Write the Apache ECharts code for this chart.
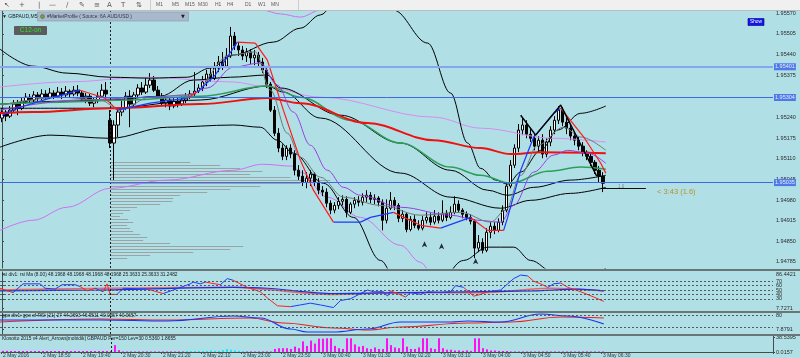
<!DOCTYPE html>
<html><head><meta charset="utf-8">
<script src="https://cdn.jsdelivr.net/npm/echarts@6/dist/echarts.min.js"></script>
<style>html,body{margin:0;padding:0;background:#b0e0e6;}#c{width:800px;height:358px;}</style>
</head><body><div id="c"></div>
<script>
// ---------- data ----------
const priceTicks = [1.95570,1.95505,1.95440,1.95375,1.95240,1.95175,1.95110,1.95045,1.94980,1.94915,1.94850,1.94785];
const rsiTicks = [7.7271,30,40,50,60,70,86.4421];
const oscTicks = [7.8791,20,77.3888,80];
const histTicks = [0.0157,38.5395];
const rsiLevels = [70,60,50,40,30];
const oscLevels = [80,20];
const hLevels = [1.95401,1.95304,1.95035];
const sessionIndex = 27;
const timeLabels = ['2 May 2016','2 May 18:50','2 May 19:40','2 May 20:30','2 May 21:20','2 May 22:10','2 May 23:00','2 May 23:50','3 May 00:40','3 May 01:30','3 May 02:20','3 May 03:10','3 May 04:00','3 May 04:50','3 May 05:40','3 May 06:30'];
// [open, close, low, high]
const candles = [
[1.95239,1.95258,1.95226,1.95270],[1.95258,1.95245,1.95229,1.95264],[1.95245,1.95264,1.95239,1.95277],[1.95264,1.95283,1.95258,1.95296],
[1.95283,1.95270,1.95248,1.95296],[1.95270,1.95292,1.95264,1.95305],[1.95292,1.95305,1.95283,1.95318],[1.95305,1.95296,1.95286,1.95315],
[1.95296,1.95312,1.95289,1.95324],[1.95312,1.95302,1.95292,1.95321],[1.95302,1.95315,1.95296,1.95330],[1.95315,1.95305,1.95296,1.95327],
[1.95305,1.95318,1.95299,1.95334],[1.95318,1.95308,1.95299,1.95327],[1.95308,1.95321,1.95302,1.95337],[1.95321,1.95312,1.95299,1.95334],
[1.95312,1.95324,1.95305,1.95340],[1.95324,1.95315,1.95305,1.95330],[1.95315,1.95327,1.95308,1.95340],[1.95327,1.95318,1.95308,1.95343],
[1.95318,1.95299,1.95292,1.95324],[1.95299,1.95308,1.95286,1.95318],[1.95308,1.95286,1.95277,1.95315],[1.95286,1.95296,1.95273,1.95305],
[1.95296,1.95308,1.95286,1.95321],[1.95308,1.95327,1.95302,1.95346],[1.95327,1.95315,1.95305,1.95353],[1.95232,1.95160,1.95144,1.95264],
[1.95160,1.95217,1.95043,1.95232],[1.95217,1.95258,1.95179,1.95270],[1.95258,1.95270,1.95245,1.95296],[1.95270,1.95308,1.95264,1.95321],
[1.95308,1.95283,1.95210,1.95327],[1.95283,1.95312,1.95277,1.95321],[1.95312,1.95334,1.95302,1.95346],[1.95334,1.95321,1.95312,1.95353],
[1.95321,1.95343,1.95315,1.95365],[1.95343,1.95359,1.95334,1.95381],[1.95359,1.95327,1.95321,1.95372],[1.95327,1.95308,1.95299,1.95340],
[1.95308,1.95286,1.95280,1.95318],[1.95286,1.95296,1.95273,1.95308],[1.95296,1.95277,1.95264,1.95302],[1.95277,1.95292,1.95270,1.95302],
[1.95292,1.95283,1.95273,1.95305],[1.95283,1.95296,1.95277,1.95308],[1.95296,1.95305,1.95286,1.95318],[1.95305,1.95315,1.95299,1.95327],
[1.95315,1.95324,1.95308,1.95384],[1.95324,1.95334,1.95318,1.95346],[1.95334,1.95353,1.95324,1.95372],[1.95353,1.95378,1.95340,1.95391],
[1.95378,1.95365,1.95353,1.95403],[1.95365,1.95397,1.95359,1.95416],[1.95397,1.95416,1.95384,1.95435],[1.95416,1.95403,1.95391,1.95448],
[1.95403,1.95435,1.95397,1.95460],[1.95435,1.95498,1.95429,1.95527],[1.95498,1.95467,1.95454,1.95511],[1.95467,1.95454,1.95435,1.95479],
[1.95454,1.95435,1.95422,1.95467],[1.95435,1.95448,1.95416,1.95460],[1.95448,1.95429,1.95410,1.95457],[1.95429,1.95438,1.95406,1.95454],
[1.95438,1.95416,1.95400,1.95448],[1.95416,1.95391,1.95381,1.95429],[1.95391,1.95346,1.95334,1.95403],[1.95346,1.95264,1.95258,1.95353],
[1.95264,1.95191,1.95182,1.95277],[1.95191,1.95144,1.95131,1.95207],[1.95144,1.95118,1.95106,1.95156],[1.95118,1.95144,1.95106,1.95153],
[1.95144,1.95125,1.95112,1.95156],[1.95125,1.95074,1.95058,1.95137],[1.95074,1.95055,1.95043,1.95090],[1.95055,1.95036,1.95024,1.95074],
[1.95036,1.95049,1.95017,1.95068],[1.95049,1.95062,1.95024,1.95074],[1.95062,1.95036,1.95024,1.95068],[1.95036,1.95011,1.94998,1.95049],
[1.95011,1.95005,1.94992,1.95024],[1.95005,1.94970,1.94957,1.95017],[1.94970,1.94948,1.94935,1.94979],[1.94948,1.94963,1.94938,1.94973],
[1.94963,1.94976,1.94951,1.94989],[1.94976,1.94982,1.94963,1.94995],[1.94982,1.94941,1.94925,1.94992],[1.94941,1.94967,1.94935,1.94973],
[1.94967,1.94979,1.94954,1.94989],[1.94979,1.94973,1.94960,1.94992],[1.94973,1.94989,1.94963,1.95001],[1.94989,1.94995,1.94973,1.95011],
[1.94995,1.94982,1.94970,1.95005],[1.94982,1.94986,1.94967,1.94998],[1.94986,1.94973,1.94960,1.94992],[1.94973,1.94916,1.94884,1.94982],
[1.94916,1.94954,1.94906,1.94982],[1.94954,1.94979,1.94948,1.95005],[1.94979,1.94963,1.94948,1.94989],[1.94963,1.94922,1.94910,1.94970],
[1.94922,1.94935,1.94910,1.94948],[1.94935,1.94887,1.94878,1.94941],[1.94887,1.94919,1.94881,1.94929],[1.94919,1.94900,1.94891,1.94932],
[1.94900,1.94891,1.94884,1.94916],[1.94891,1.94916,1.94884,1.94929],[1.94916,1.94925,1.94906,1.94941],[1.94925,1.94910,1.94900,1.94938],
[1.94910,1.94929,1.94903,1.94948],[1.94929,1.94916,1.94906,1.94941],[1.94916,1.94938,1.94910,1.94979],[1.94938,1.94925,1.94913,1.94948],
[1.94925,1.94941,1.94919,1.94960],[1.94941,1.94967,1.94935,1.94992],[1.94967,1.94948,1.94941,1.94979],[1.94948,1.94935,1.94922,1.94954],
[1.94935,1.94925,1.94916,1.94944],[1.94925,1.94913,1.94903,1.94935],[1.94913,1.94828,1.94796,1.94919],[1.94828,1.94846,1.94815,1.94869],
[1.94846,1.94821,1.94811,1.94859],[1.94821,1.94878,1.94815,1.94891],[1.94878,1.94897,1.94859,1.94910],[1.94897,1.94884,1.94872,1.94910],
[1.94884,1.94910,1.94878,1.94922],[1.94910,1.94948,1.94900,1.94963],[1.94948,1.95024,1.94941,1.95036],[1.95024,1.95090,1.95017,1.95106],
[1.95090,1.95144,1.95081,1.95156],[1.95144,1.95201,1.95131,1.95220],[1.95201,1.95217,1.95185,1.95242],[1.95217,1.95188,1.95175,1.95232],
[1.95188,1.95175,1.95163,1.95207],[1.95175,1.95150,1.95137,1.95188],[1.95150,1.95169,1.95131,1.95182],[1.95169,1.95125,1.95112,1.95188],
[1.95125,1.95163,1.95115,1.95175],[1.95163,1.95201,1.95150,1.95213],[1.95201,1.95232,1.95188,1.95245],[1.95232,1.95264,1.95220,1.95277],
[1.95264,1.95226,1.95213,1.95273],[1.95226,1.95207,1.95188,1.95239],[1.95207,1.95182,1.95169,1.95220],[1.95182,1.95169,1.95153,1.95194],
[1.95169,1.95150,1.95137,1.95179],[1.95150,1.95131,1.95118,1.95163],[1.95131,1.95118,1.95106,1.95137],[1.95118,1.95099,1.95087,1.95131],
[1.95099,1.95074,1.95062,1.95106],[1.95074,1.95055,1.95036,1.95087],[1.95055,1.95033,1.95005,1.95068]
];
// indicator lines: [bar index, price]
const bandUpper = [[-0.5,1.95457],[7.75,1.95403],[16.25,1.95381],[27,1.95368],[37,1.95365],[46.25,1.95368],[52,1.95397],[57.75,1.95438],[67.75,1.95479],[74.5,1.95523],[79.5,1.95565],[84.5,1.95628],[92,1.95659],[97.75,1.95580],[106.25,1.95476],[112,1.95318],[116.25,1.95160],[119.5,1.95080],[123.25,1.95043],[126.25,1.95030],[129.5,1.95068],[134.5,1.95137],[138.75,1.95201],[144.5,1.95254],[150.75,1.95277]];
const bandLower = [[-0.5,1.95147],[12,1.95185],[27,1.95175],[41.25,1.95210],[57.75,1.95217],[64.5,1.95210],[68.75,1.95169],[72.75,1.95128],[80.25,1.95033],[87.75,1.94925],[94.5,1.94789],[99.5,1.94694],[107,1.94679],[115.25,1.94789],[121.25,1.94831],[127.75,1.94831],[132,1.94789],[137.75,1.94751],[144,1.94730],[150.75,1.94764]];
const envUpper = [[59.5,1.95612],[65,1.95580],[69.5,1.95568],[74.5,1.95558],[79.5,1.95580],[82,1.95612]];
const envLower = [[-0.5,1.94884],[7.75,1.94916],[16.25,1.94957],[27,1.95017],[41.25,1.95043],[57.75,1.95074],[65,1.95093],[72.5,1.95087],[74.5,1.95068],[81.25,1.94989],[89.5,1.94925],[99.5,1.94837],[104.5,1.94783],[107,1.94742]];
const envMid = [[-0.5,1.95337],[16.25,1.95353],[36.25,1.95368],[57.75,1.95353],[65,1.95340],[79.5,1.95305],[107.75,1.95242],[119.5,1.95207],[137.75,1.95175],[150.75,1.95163]];
const maRed = [[-0.5,1.95254],[7.75,1.95258],[27,1.95270],[49.5,1.95283],[66.25,1.95302],[74.5,1.95286],[91.25,1.95223],[107.75,1.95169],[119.5,1.95144],[127,1.95125],[134.5,1.95131],[150.75,1.95128]];
const maGreen = [[-0.5,1.95283],[14.5,1.95289],[32,1.95296],[49.5,1.95308],[66.25,1.95340],[74.5,1.95305],[87,1.95232],[99.5,1.95160],[112,1.95084],[119.5,1.95058],[127,1.95033],[136.25,1.95071],[144.5,1.95084],[150.75,1.95077]];
const maBlackA = [[-0.5,1.95283],[14.5,1.95292],[27,1.95296],[39.5,1.95308],[47.75,1.95359],[57,1.95368],[66.25,1.95375],[69.5,1.95334],[84.5,1.95248],[99.5,1.95160],[112,1.95074],[121.25,1.95011],[126.25,1.94995],[132.75,1.95020],[142,1.95043],[150.75,1.95058]];
const maBlackB = [[-0.5,1.95270],[27,1.95270],[49.5,1.95296],[66.25,1.95340],[70.25,1.95321],[79.5,1.95239],[99.5,1.95065],[112,1.94989],[124.5,1.94954],[132,1.94979],[142,1.95001],[150.75,1.95020]];
const bandInner = [[-0.5,1.95264],[19.5,1.95296],[37,1.95305],[46.25,1.95312],[51.25,1.95334],[57.75,1.95400],[64.5,1.95413],[68.75,1.95343],[72.75,1.95258],[77,1.95153],[81.25,1.95074],[85.25,1.95020],[89.5,1.94995],[99.5,1.94957],[112,1.94932],[118.75,1.94916],[124.5,1.94910],[127.75,1.94963],[132.75,1.95068],[137.75,1.95122],[141.25,1.95137],[146.25,1.95128],[150.75,1.95096]];
const maGray = [[0,1.95280],[14.5,1.95305],[24.5,1.95296],[29.5,1.95264],[37,1.95305],[47,1.95312],[57,1.95438],[63.25,1.95448],[67,1.95327],[71.25,1.95191],[74.5,1.95115],[79.5,1.95052],[85.25,1.94989],[94.5,1.94963],[104.5,1.94932],[114.5,1.94941],[122,1.94910],[125.75,1.94948],[129.5,1.95058],[133.75,1.95153],[140.25,1.95210],[144.5,1.95179],[150.75,1.95137]];
const fastMA = [[0,1.95248],[4.5,1.95273],[12,1.95302],[19.5,1.95327],[23.25,1.95312],[25.75,1.95302],[28.75,1.95264],[37,1.95286],[46.25,1.95302],[48.75,1.95321],[53.25,1.95375],[58.75,1.95479],[63.25,1.95476],[66.25,1.95422],[70.25,1.95264],[74.5,1.95106],[77.75,1.95011],[82.75,1.94910],[89.5,1.94910],[92,1.94925],[97.75,1.94941],[104.5,1.94900],[109.5,1.94891],[117,1.94925],[121.25,1.94884],[125.25,1.94884],[126.25,1.94925],[129.5,1.95074],[132.75,1.95179],[137.75,1.95254],[139.5,1.95270],[145.25,1.95179],[149.5,1.95096],[150.75,1.95065]];
const fastDir = ['u','u','u','d','d','d','u','u','d','u','u','d','d','d','d','d','d','u','u','u','d','d','u','d','d','u','u','u','u','u','d','d','d','d'];
const zigzag = [[129.5,1.95248],[133.25,1.95185],[139.5,1.95280],[148.5,1.95055]];
const arrows = [[105.5,1.94850],[109.75,1.94843],[118.25,1.94796]];
// market profile: [price, end bar index], starting at sessionIndex
const profile = [[1.95099,47],[1.95090,54.5],[1.95081,59.5],[1.95071,65],[1.95062,62],[1.95052,72],[1.95043,82],[1.95033,74.5],[1.95024,64.5],[1.95014,57],[1.95005,51.25],[1.94995,44.5],[1.94986,42.75],[1.94976,42.5],[1.94967,39.5],[1.94957,33.75],[1.94948,32],[1.94938,30.25],[1.94929,29.5],[1.94919,31.5],[1.94910,32.75],[1.94900,31.25],[1.94891,32],[1.94881,32.75],[1.94872,34.5],[1.94862,36.25],[1.94853,35.25],[1.94843,42],[1.94834,60.25],[1.94824,57],[1.94815,47.75],[1.94805,37],[1.94796,31.25]];
const bidSeg = [[151,1.95035],[160.75,1.95035]];
const spreadSeg = [[149.5,1.95017],[160.75,1.95017]];
// RSI panel
const rsiLine = [[-0.5,54],[2.75,44],[5.25,64],[9.5,64],[10.75,54],[13.25,52],[15,62],[18.25,62],[19.5,58],[21.25,48],[23.25,54],[25.25,46],[26.25,64],[27,40],[28.75,40],[30.25,54],[36.25,52],[40.25,42],[42.75,50],[47,64],[47.75,68],[49.5,64],[50.75,68],[54.5,62],[56.25,76],[57.75,72],[61.25,56],[64.5,46],[66.25,32],[68.75,14],[72,12],[74.5,16],[77,20],[79.5,16],[82.75,10],[84.5,26],[87,30],[91.25,50],[92.75,46],[95.25,46],[96.25,36],[97,48],[98.75,42],[100.75,34],[102,44],[104.5,40],[106.25,46],[109.5,44],[112,46],[113.25,60],[115.25,56],[117.75,36],[119.5,40],[121.25,46],[124.5,50],[126.25,64],[127.75,76],[129.5,84],[131.25,82],[132.75,70],[134.5,64],[136.25,56],[137.75,64],[139.5,66],[141.25,56],[144.5,46],[147.75,34],[150.25,24]];
const rsiDir = ['d','u','u','u','u','u','u','u','d','d','u','d','d','d','u','u','d','u','u','u','u','u','d','u','u','d','d','d','d','d','u','u','u','u','u','u','u','u','u','u','u','d','d','u','u','u','u','u','u','u','d','d','d','u','u','u','u','u','d','d','d','u','u','d','d','d','d','d'];
const rsiSignal = [[-0.5,48],[24.5,50],[57.75,56],[66.25,54],[82.75,42],[99.5,44],[132.75,48],[143.75,52],[150.25,48]];
const rsiSlow = [[-0.5,50],[57.75,56],[64.5,52],[82.75,40],[99.5,44],[119.5,44],[137,54],[150.25,48]];
// second oscillator
const oscBlue = [[-0.5,55],[24.5,55],[41.25,50],[57.75,75],[64.5,65],[72,10],[76.25,-5],[82.75,-5],[91.25,10],[99.5,45],[112,45],[116.25,50],[124.5,45],[134.5,85],[141.25,75],[150.25,35]];
const oscRed = [[-0.5,45],[24.5,60],[41.25,55],[62,65],[70.25,40],[82.75,15],[91.25,5],[99.5,20],[116.25,40],[127,45],[139.5,70],[150.25,65]];
// histogram
const histVals = [3,3,2,2,2,
1,1,1,1,1,1,1,1,1,1,1,1,1,1,1,1,1,1,1,1,1,1,
1,18,5,
1,1,1,1,1,1,1,1,1,1,1,1,1,1,1,1,
1,2,2,3,2,3,4,3,3,5,8,6,4,3,2,
1,1,1,1,1,1,1,
8,10,10,10,8,14,10,28,16,30,22,35,35,36,36,16,10,8,36,36,20,14,16,10,8,12,8,8,36,18,12,10,
36,14,8,8,12,36,36,10,8,36,10,6,6,4,4,3,4,3,36,36,10,7,4,4,3,2,2,
1,1,1,1,1,1,1,1,1,1,1,1,1,1,1,1,1,1,1,1,1,1,1,1];
const histState = [].concat(
  Array(30).fill('m'), Array(16).fill('v'), Array(15).fill('c'), Array(7).fill('v'), Array(59).fill('m'), Array(24).fill('v'));

// ---------- chart ----------
const N = 193;
const cats = Array.from({length:N}, (_, i) => String(i));
const FONT = 'Liberation Sans';
const chart = echarts.init(document.getElementById('c'), null, {renderer:'canvas', width:800, height:358});

function splitDir(pts, dir, d) {
  const out = [];
  for (let k = 0; k < pts.length - 1; k++) {
    if (dir[k] === d) { out.push(pts[k], pts[k+1], [pts[k+1][0], '-']); }
  }
  return out;
}
function ln(data, color, width, extra) {
  return Object.assign({type:'line', xAxisIndex:1, yAxisIndex:0, data, symbol:'none', showSymbol:false,
    smooth:0.35, smoothMonotone:'x', silent:true, animation:false, lineStyle:{color, width}}, extra || {});
}
const dotV = () => ({xAxis: sessionIndex, lineStyle:{color:'#1e1e1e', type:[2,2], width:1}, label:{show:false}});
const lvlStyle = v => ({yAxis: v, lineStyle:{color:'#505a5c', type:[2,2], width:1}, label:{show:false}});
const hColors = ['#86a6ee','#3d68ea','#3d68ea'];
const hWidths = [2,1,1];
const mk = (data, extra) => Object.assign({silent:true, symbol:['none','none'], animation:false, precision:5, data}, extra || {});

const hidX = (g) => ({type:'value', gridIndex:g, min:-0.5, max:N-0.5, show:false});
const yBase = (g, min, max, ticks, fmt) => ({type:'value', gridIndex:g, position:'right', min, max, scale:false,
  splitLine:{show:false},
  axisLine:{show:true, lineStyle:{color:'#4a4a4a', width:1}},
  axisTick:{show:true, length:2, customValues:ticks, lineStyle:{color:'#4a4a4a'}},
  axisLabel:{customValues:ticks, formatter:fmt, fontSize:5.5, fontFamily:FONT, color:'#2a2a2a', margin:3,
    hideOverlap:false, showMinLabel:true, showMaxLabel:true}});
const numFmt = v => Number.isInteger(v) ? String(v) : v.toFixed(4);

const option = {
  animation:false,
  backgroundColor:'#b0e0e6',
  grid:[
    {left:0, top:11, width:773, height:257},
    {left:0, top:272, width:773, height:39},
    {left:0, top:313, width:773, height:21},
    {left:0, top:336, width:773, height:16}
  ],
  xAxis:[
    {type:'category', gridIndex:0, data:cats, boundaryGap:true, show:false},
    hidX(0), hidX(1), hidX(2),
    {type:'category', gridIndex:3, data:cats, boundaryGap:true,
      axisLine:{show:true, lineStyle:{color:'#4a4a4a'}},
      axisTick:{show:true, length:2, interval:(i)=> i % 10 === 0 && i <= 150, lineStyle:{color:'#4a4a4a'}},
      axisLabel:{interval:0, align:'left', margin:1, fontSize:5, fontFamily:FONT, color:'#333', hideOverlap:false,
        formatter:(v, i) => (i % 10 === 0 && timeLabels[i/10]) ? timeLabels[i/10] : ''}}
  ],
  yAxis:[
    yBase(0, 1.947651, 1.955773, priceTicks, v => v.toFixed(5)),
    yBase(1, 2.17, 91, rsiTicks, numFmt),
    yBase(2, -15, 90, oscTicks, numFmt),
    yBase(3, 0, 42, histTicks, numFmt)
  ],
  series:[
    ln(envLower, '#d070f0', 1, {z:1, markLine:mk(
      profile.map(p => [{coord:[sessionIndex, p[0]]}, {coord:[p[1], p[0]]}]).concat([
        [{coord:bidSeg[0], lineStyle:{color:'#f2e400', width:1, type:'solid'}}, {coord:bidSeg[1]}],
        [{coord:spreadSeg[0], lineStyle:{color:'#101010', width:1, type:'solid'}}, {coord:spreadSeg[1]}]
      ]), {z:1, label:{show:false}, lineStyle:{color:'#98a4a6', width:1, type:'solid'}})}),
    {type:'candlestick', xAxisIndex:0, yAxisIndex:0, data:candles, barWidth:3, silent:true, animation:false,
      itemStyle:{color:'#ffffff', color0:'#000000', borderColor:'#000000', borderColor0:'#000000', borderWidth:1}},
    ln(envUpper, '#d070f0', 1),
    ln(envMid, '#d98af2', 1, {markLine:mk(
        [dotV()].concat(hLevels.map((v, k) => ({yAxis:v,
          lineStyle:{color:hColors[k], width:hWidths[k], type:'solid'},
          label:{show:true, position:'end', distance:1, formatter:v.toFixed(5), backgroundColor:'#4f78e8',
            color:'#e6edff', fontSize:5.5, fontFamily:FONT, padding:[1,1,0,1]}}))), {z:6})}),
    ln(bandUpper, '#000000', 1),
    ln(bandLower, '#000000', 1),
    ln(maBlackA, '#000000', 1),
    ln(maBlackB, '#000000', 1),
    ln(maGreen, '#2e9e5a', 1.5),
    ln(maRed, '#f01010', 2),
    ln(bandInner, '#9a3ee0', 1),
    ln(maGray, '#707878', 1),
    ln(splitDir(fastMA, fastDir, 'u'), '#1c38ff', 1.2, {smooth:false}),
    ln(splitDir(fastMA, fastDir, 'd'), '#ff1a1a', 1.2, {smooth:false}),
    ln(zigzag, '#000000', 1.5, {smooth:false}),
    {type:'scatter', xAxisIndex:1, yAxisIndex:0, data:arrows, symbol:'arrow', symbolSize:[4,6], silent:true,
      animation:false, itemStyle:{color:'#000000'}},
    // RSI
    {type:'line', xAxisIndex:2, yAxisIndex:1, data:rsiSlow, symbol:'none', silent:true, animation:false, smooth:0.3,
      lineStyle:{color:'#e46a6a', width:1.5},
      markLine:mk([dotV()].concat(rsiLevels.map(lvlStyle)))},
    {type:'line', xAxisIndex:2, yAxisIndex:1, data:rsiSignal, symbol:'none', silent:true, animation:false, smooth:0.3,
      lineStyle:{color:'#1f2fe0', width:1.2}},
    {type:'line', xAxisIndex:2, yAxisIndex:1, data:splitDir(rsiLine, rsiDir, 'u'), symbol:'none', silent:true, animation:false,
      lineStyle:{color:'#2038ff', width:1}},
    {type:'line', xAxisIndex:2, yAxisIndex:1, data:splitDir(rsiLine, rsiDir, 'd'), symbol:'none', silent:true, animation:false,
      lineStyle:{color:'#ff2020', width:1}},
    // oscillator 2
    {type:'line', xAxisIndex:3, yAxisIndex:2, data:oscRed, symbol:'none', silent:true, animation:false, smooth:0.4, smoothMonotone:'x',
      lineStyle:{color:'#ee2020', width:1.2},
      markLine:mk([dotV()].concat(oscLevels.map(lvlStyle)))},
    {type:'line', xAxisIndex:3, yAxisIndex:2, data:oscBlue, symbol:'none', silent:true, animation:false, smooth:0.4, smoothMonotone:'x',
      lineStyle:{color:'#2030f0', width:1.2}},
    // histogram
    {type:'bar', xAxisIndex:4, yAxisIndex:3, barWidth:2, barMinHeight:1, silent:true, animation:false,
      data: histVals.map((v, i) => ({value:v, itemStyle:{color: histState[i] === 'c' ? '#22e4f4' : (histState[i] === 'v' ? '#c07cf0' : '#ff10f0')}})),
      markLine:mk([dotV()])}
  ],
  graphic:{elements:[
    // toolbar
    {type:'rect', shape:{x:0, y:0, width:800, height:10.5}, style:{fill:'#f0f0f0'}, z:100},
    {type:'rect', shape:{x:0, y:10, width:800, height:1}, style:{fill:'#bdbdbd'}, z:100},
    {type:'rect', shape:{x:150, y:0, width:0.8, height:10}, style:{fill:'#c4c4c4'}, z:100},
    {type:'rect', shape:{x:298, y:0, width:0.8, height:10}, style:{fill:'#c4c4c4'}, z:100},
    ...[['↖',4],['+',19],['|',38],['—',49],['/',66],['✎',79],['≡',94],['A',107],['T',121],['⇅',136]].map(t => (
      {type:'text', x:t[1], y:5, z:101, style:{text:t[0], fill:'#555', font:'7px "DejaVu Sans"', verticalAlign:'middle'}})),
    ...[['M1',156],['M5',172],['M15',185],['M30',198],['H1',215],['H4',227],['D1',245],['W1',258],['MN',271]].map(t => (
      {type:'text', x:t[1], y:5, z:101, style:{text:t[0], fill:'#5a5a5a', font:'5px "Liberation Sans"', verticalAlign:'middle'}})),
    // tab bar
    {type:'text', x:2, y:16.5, z:101, style:{text:'▼ GBPAUD,M5', fill:'#202020', font:'5px "Liberation Sans"', verticalAlign:'middle'}},
    {type:'rect', shape:{x:37.5, y:12, width:151, height:9}, style:{fill:'#a9b9cd', stroke:'#8797ad', lineWidth:0.6}, z:100},
    {type:'circle', shape:{cx:42.5, cy:16.5, r:2}, style:{fill:'#74a044', stroke:'#40602a', lineWidth:0.5}, z:101},
    {type:'text', x:47, y:16.5, z:101, style:{text:'#MarketProfile ( Source: 6A AUD/USD )', fill:'#2c3444', font:'4.8px "Liberation Sans"', verticalAlign:'middle'}},
    {type:'text', x:181, y:16.5, z:101, style:{text:'▼', fill:'#202020', font:'5px "DejaVu Sans"', verticalAlign:'middle'}},
    // labels
    {type:'rect', shape:{x:14, y:26, width:33, height:9, r:1}, style:{fill:'#5c5c5c'}, z:100},
    {type:'text', x:30.5, y:30.5, z:101, style:{text:'C12-on', fill:'#2ee02e', font:'6.5px "Liberation Sans"', align:'center', verticalAlign:'middle'}},
    {type:'rect', shape:{x:748, y:18.5, width:16, height:7}, style:{fill:'#1414f0', stroke:'#000088', lineWidth:0.6}, z:100},
    {type:'text', x:756, y:22, z:101, style:{text:'Show', fill:'#ffffff', font:'4.8px "Liberation Sans"', align:'center', verticalAlign:'middle'}},
    {type:'text', x:657, y:192, z:101, style:{text:'< 3:43 (1.6)', fill:'#b8902c', font:'7.5px "Liberation Sans"', verticalAlign:'middle'}},
    {type:'text', x:618, y:186.5, z:101, style:{text:'1.6', fill:'#7f8888', font:'4.5px "Liberation Sans"', verticalAlign:'middle'}},
    // panel separators
    {type:'rect', shape:{x:0, y:269, width:800, height:2}, style:{fill:'#6b7577'}, z:100},
    {type:'rect', shape:{x:0, y:311, width:800, height:2}, style:{fill:'#6b7577'}, z:100},
    {type:'rect', shape:{x:0, y:334, width:800, height:2}, style:{fill:'#6b7577'}, z:100},
    // panel titles
    {type:'text', x:2, y:275, z:101, style:{text:'rsi div1: rsi Ma (8.00) 48.1968 48.1968 48.1968 48.1968 25.3633 25.3633 31.2482', fill:'#1a1a1a', font:'4.8px "Liberation Sans"', verticalAlign:'middle'}},
    {type:'text', x:2, y:316, z:101, style:{text:'gpo div1: gpo of RSI (21) 27 44.2693 46.9511 40.0657 40.0657', fill:'#1a1a1a', font:'4.8px "Liberation Sans"', verticalAlign:'middle'}},
    {type:'text', x:2, y:339, z:101, style:{text:'Klosotto 2015 v4 Alert_Arrows[mobidik] GBPAUD Per=150 Lev=30 0.5360 1.8655', fill:'#1a1a1a', font:'4.8px "Liberation Sans"', verticalAlign:'middle'}}
  ]}
};
chart.setOption(option);
</script>
</body></html>
